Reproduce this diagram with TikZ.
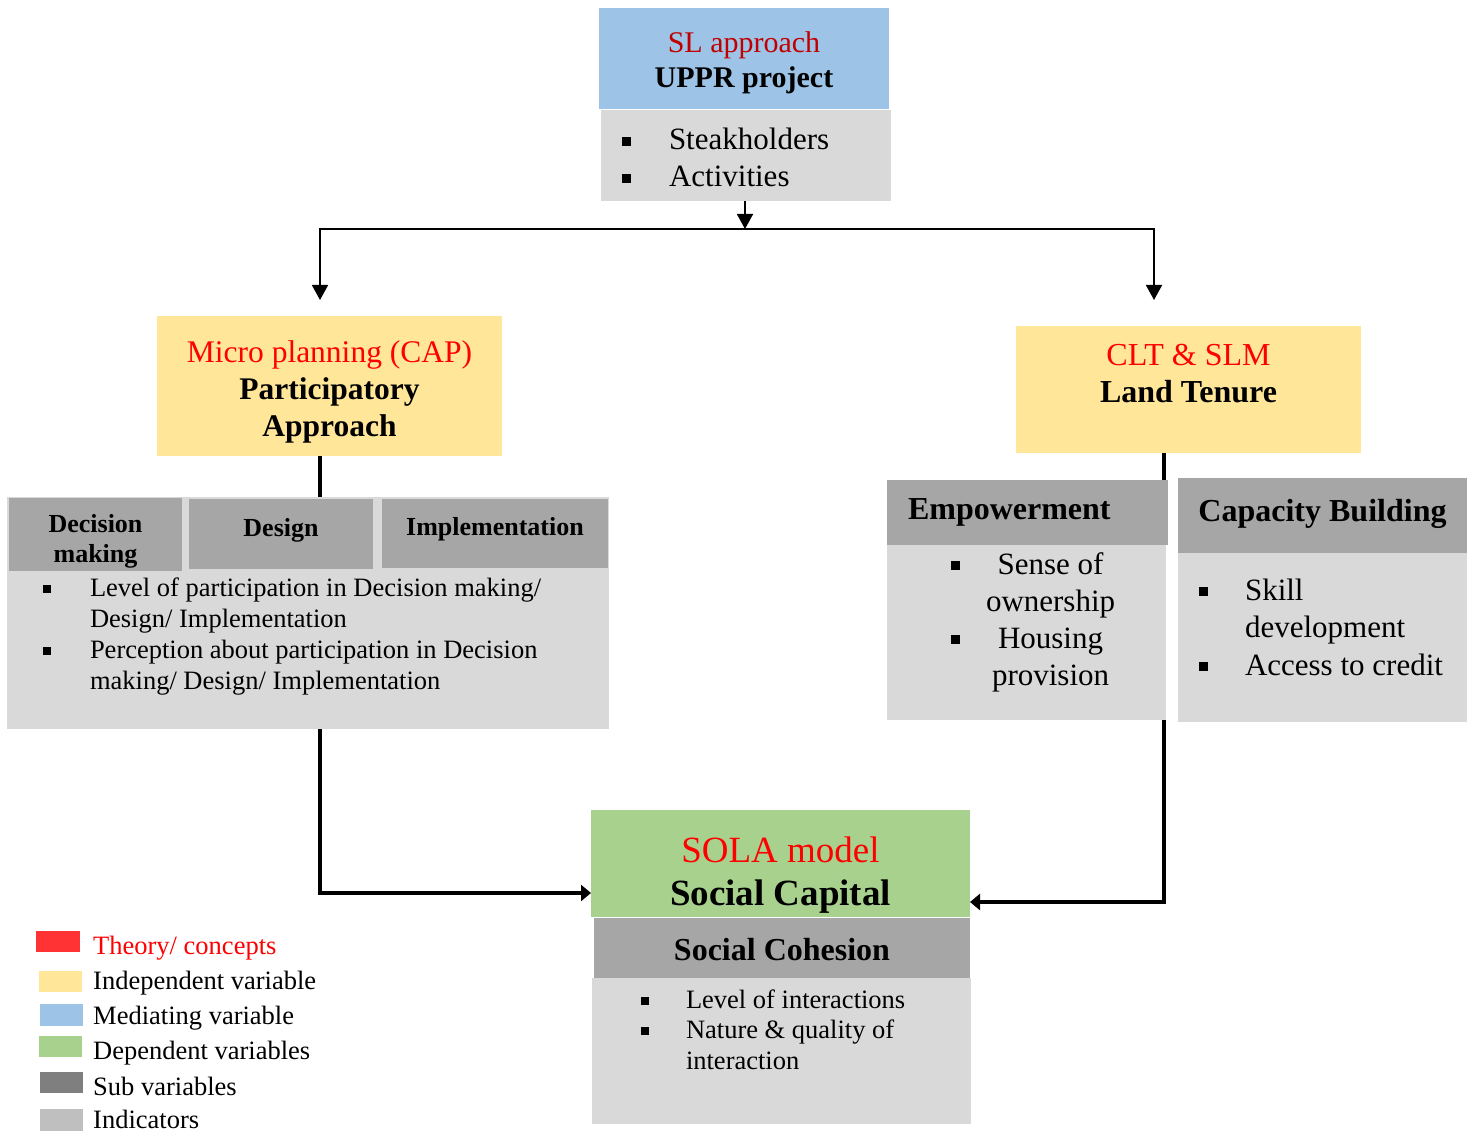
\documentclass[tikz,border=0pt]{standalone}
\usepackage{fontspec}
\setmainfont{Liberation Serif}
\usetikzlibrary{arrows.meta,positioning,calc}
\definecolor{medBlue}{HTML}{9DC3E6}
\definecolor{indYellow}{HTML}{FFE699}
\definecolor{depGreen}{HTML}{A9D18E}
\definecolor{subGray}{HTML}{A6A6A6}
\definecolor{indGray}{HTML}{D9D9D9}
\definecolor{legDark}{HTML}{7F7F7F}
\definecolor{legLight}{HTML}{BFBFBF}
\definecolor{thRed}{HTML}{FF3333}
\definecolor{slRed}{HTML}{C00000}
\newcommand{\sqb}{\rule[0.12em]{0.3em}{0.3em}}
\newcommand{\fsz}[2]{\fontsize{#1}{#2}\selectfont}
\tikzset{
	box/.style={anchor=north west, inner sep=0pt, outer sep=0pt, align=center},
	mediating/.style={box, fill=medBlue},
	indep/.style={box, fill=indYellow},
	dep/.style={box, fill=depGreen},
	subvar/.style={box, fill=subGray},
	indicator/.style={box, fill=indGray},
	title/.style={inner sep=0pt, outer sep=0pt, align=center},
	items/.style={anchor=base west, inner sep=0pt, outer sep=0pt},
	legtext/.style={anchor=west, inner sep=0pt, font=\fsz{26.5}{30}},
	conn/.style={line width=1.8pt, -{Triangle[width=16pt,length=15pt]}},
	link/.style={line width=3.8pt},
	thickarr/.style={link, -{Triangle[width=16pt,length=10pt]}}
}
\begin{document}
\begin{tikzpicture}[x=1pt,y=-1pt]
	\useasboundingbox[fill=white] (0,0) rectangle (1467,1131);
	
	% mediating variable
	\node[mediating, minimum width=290pt, minimum height=101pt] (sl) at (599,8) {};
	\node[title, font=\fsz{30}{35}] (sltext) at ([yshift=-4pt]sl.center) {\textcolor{slRed}{SL approach}\\ \textbf{UPPR project}};
	\node[indicator, minimum width=290pt, minimum height=91pt] (slind) at (601,110) {};
	\node[items, font=\fsz{31}{37}] (slitems) at (622,150) {\begin{tabular}[t]{@{}p{47pt}@{}l@{}}
			\sqb & Steakholders \\ \sqb & Activities
	\end{tabular}};
	
	\coordinate (split) at (745,229);
	\coordinate (lft) at (320,300);
	\coordinate (rgt) at (1154,300);
	\coordinate (rx) at (1164,0);
	
	% independent variables
	\node[indep, minimum width=345pt, minimum height=140pt] (cap) at (157,316) {};
	\node[title, font=\fsz{31.5}{37}] (captext) at ([yshift=-5.5pt]cap.center) {\textcolor{red}{Micro planning (CAP)}\\ \textbf{Participatory}\\ \textbf{Approach}};
	\node[indep, minimum width=345pt, minimum height=127pt] (clt) at (1016,326) {};
	\node[title, font=\fsz{32}{37}] (clttext) at ([yshift=15.5pt]clt.center) {\textcolor{red}{CLT \& SLM}\\ \textbf{Land Tenure}};
	
	% participatory approach
	\node[indicator, minimum width=602pt, minimum height=232pt] (part) at (7,497) {};
	\node[subvar, minimum width=173pt, minimum height=73pt] (decision) at (9,498) {};
	\node[title, font=\fsz{26}{30}\bfseries] (dectext) at ([yshift=-6.5pt]decision.center) {Decision\\ making};
	\node[subvar, minimum width=184pt, minimum height=70pt] (design) at (189,499) {};
	\node[title, font=\fsz{26}{30}\bfseries] (destext) at ([yshift=4pt]design.center) {Design};
	\node[subvar, minimum width=226pt, minimum height=69pt] (impl) at (382,499) {};
	\node[title, font=\fsz{26}{30}\bfseries] (impltext) at ([yshift=4pt]impl.center) {Implementation};
	\node[items, font=\fsz{26.5}{31}] (partitems) at (43,596) {\begin{tabular}[t]{@{}p{47pt}@{}l@{}}
			\sqb & Level of participation in Decision making/ \\
			& Design/ Implementation \\
			\sqb & Perception about participation in Decision \\
			& making/ Design/ Implementation
	\end{tabular}};
	
	% land tenure
	\node[subvar, minimum width=281pt, minimum height=65pt, text width=239pt, inner xsep=21pt, align=left, font=\fsz{32}{37}\bfseries] (emphead) at (887,480) {Empowerment};
	\node[indicator, minimum width=279pt, minimum height=175pt] (empbody) at (887,545) {};
	\node[items, font=\fsz{31}{37}] (empitems) at (951,574) {\begin{tabular}[t]{@{}p{35pt}@{}c@{}}
			\sqb & Sense of \\ & ownership \\ \sqb & Housing \\ & provision
	\end{tabular}};
	\node[subvar, minimum width=289pt, minimum height=75pt] (caphead) at (1178,478) {};
	\node[title, font=\fsz{32}{37}\bfseries] (capheadtext) at ([yshift=2pt]caphead.center) {Capacity Building};
	\node[indicator, minimum width=289pt, minimum height=169pt] (capbody) at (1178,553) {};
	\node[items, font=\fsz{31}{37.5}] (capitems) at (1199,600) {\begin{tabular}[t]{@{}p{46pt}@{}l@{}}
			\sqb & Skill \\ & development \\ \sqb & Access to credit
	\end{tabular}};
	
	% dependent variable
	\node[dep, minimum width=379pt, minimum height=107pt] (sola) at (591,810) {};
	\node[title, font=\fsz{37}{43}] (solatext) at ([yshift=-12pt]sola.center) {\textcolor{red}{SOLA model}\\ \textbf{Social Capital}};
	\node[subvar, minimum width=376pt, minimum height=60pt] (cohesion) at (594,918) {};
	\node[title, font=\fsz{32}{37}\bfseries] (cohtext) at ([yshift=-2pt]cohesion.center) {Social Cohesion};
	\node[indicator, minimum width=379pt, minimum height=146pt] (cohbody) at (592,978) {};
	\node[items, font=\fsz{26.5}{30.5}] (cohitems) at (641,1008) {\begin{tabular}[t]{@{}p{45pt}@{}l@{}}
			\sqb & Level of interactions \\ \sqb & Nature \& quality of \\ & interaction
	\end{tabular}};
	
	% connectors
	\draw[conn] (slind.south -| split) -- (split);
	\draw[conn] (split) -| (lft);
	\draw[conn] (split) -| (rgt);
	\draw[link] (cap.south -| lft) -- (part.north -| lft);
	\draw[thickarr] (part.south -| lft) |- ([yshift=-29.5pt]sola.west);
	\draw[link] (clt.south -| rx) -- (emphead.north -| rx);
	\draw[thickarr] (empbody.south -| rx) |- ([yshift=-38.5pt]sola.east);
	
	% legend
	\node[box, fill=thRed, minimum width=44pt, minimum height=21pt] (legth) at (36,931) {};
	\node[legtext, text=red] (legthtxt) at (93,948) {Theory/ concepts};
	\node[box, fill=indYellow, minimum width=43pt, minimum height=21pt] (legind) at (39,971) {};
	\node[legtext] (legindtxt) at (93,983) {Independent variable};
	\node[box, fill=medBlue, minimum width=43pt, minimum height=22pt] (legmed) at (40,1004) {};
	\node[legtext] (legmedtxt) at (93,1018) {Mediating variable};
	\node[box, fill=depGreen, minimum width=43pt, minimum height=21pt] (legdep) at (39,1036) {};
	\node[legtext] (legdeptxt) at (93,1053) {Dependent variables};
	\node[box, fill=legDark, minimum width=43pt, minimum height=21pt] (legsub) at (40,1072) {};
	\node[legtext] (legsubtxt) at (93,1086) {Sub variables};
	\node[box, fill=legLight, minimum width=43pt, minimum height=22pt] (legindic) at (40,1109) {};
	\node[legtext] (legindictxt) at (93,1119) {Indicators};
\end{tikzpicture}
\end{document}
